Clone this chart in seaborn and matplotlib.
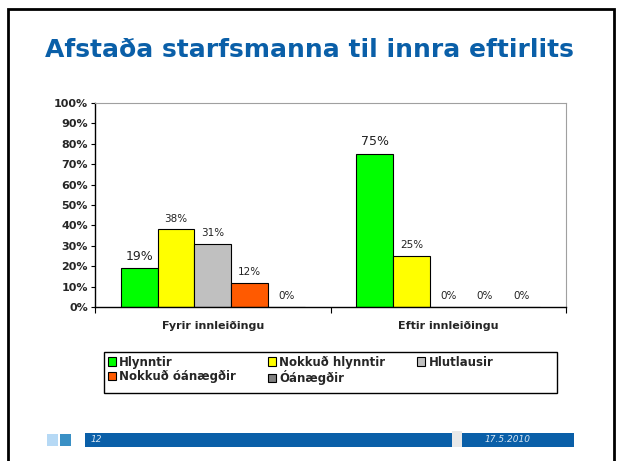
import matplotlib
matplotlib.use("Agg")
import matplotlib.pyplot as plt
from matplotlib.patches import Rectangle
import seaborn as sns
import pandas as pd
import numpy as np

categories = ["Fyrir innleiðingu", "Eftir innleiðingu"]
series = ["Hlynntir", "Nokkuð hlynntir", "Hlutlausir", "Nokkuð óánægðir", "Óánægðir"]
values = {
    "Hlynntir": [19, 75],
    "Nokkuð hlynntir": [38, 25],
    "Hlutlausir": [31, 0],
    "Nokkuð óánægðir": [12, 0],
    "Óánægðir": [0, 0],
}
colors = ["#00FF00", "#FFFF00", "#C0C0C0", "#FF5A00", "#808080"]
yticks = [0, 10, 20, 30, 40, 50, 60, 70, 80, 90, 100]
title = "Afstaða starfsmanna til innra eftirlits"
slide_no = "12"
date_txt = "17.5.2010"

rows = []
for s in series:
    for c, v in zip(categories, values[s]):
        rows.append({"cat": c, "series": s, "val": v})
df = pd.DataFrame(rows)

sns.set_theme(style="white")
plt.rcParams["font.family"] = ["DejaVu Sans"]

W, H = 618, 461
fig = plt.figure(figsize=(W / 100, H / 100), dpi=100)

def fx(px):
    return px / W

def fy(py):
    return 1 - py / H

# slide frame
fig.add_artist(Rectangle((fx(8), fy(470)), fx(614) - fx(8), fy(9) - fy(470),
                         transform=fig.transFigure, fill=False, edgecolor="black", lw=2))

# title
fig.text(fx(45), fy(50), title, color="#0A5FA8", fontsize=18, fontweight="bold",
         va="center", ha="left")

x0, x1, y0, y1 = 95, 566, 103, 307
ax = fig.add_axes([fx(x0), fy(y1), fx(x1) - fx(x0), fy(y0) - fy(y1)])
sns.barplot(data=df, x="cat", y="val", hue="series", order=categories, hue_order=series,
            palette=colors, width=0.78, edgecolor="black", linewidth=0.8, ax=ax,
            legend=False, saturation=1)

ax.set_xlim(-0.5, 1.5)
ax.set_ylim(0, 100)
ax.set_yticks(yticks)
ax.set_yticklabels([f"{t}%" for t in yticks], fontsize=8, fontweight="bold")
ax.set_xticks([0, 1])
ax.set_xticklabels(categories, fontsize=8, fontweight="bold")
ax.tick_params(axis="x", which="major", length=0, pad=10)
ax.set_xticks([-0.5, 0.5, 1.5], minor=True)
ax.tick_params(axis="x", which="minor", length=4, width=0.8, color="black", direction="out", bottom=True)
ax.tick_params(axis="y", length=3, width=0.8, color="black", direction="out", left=True, pad=2)
ax.set_xlabel("")
ax.set_ylabel("")
for side in ["left", "bottom"]:
    ax.spines[side].set_color("black")
    ax.spines[side].set_linewidth(1)
for side in ["top", "right"]:
    ax.spines[side].set_color("#A0A0A0")
    ax.spines[side].set_linewidth(0.8)

for i, cont in enumerate(ax.containers):
    labels = [f"{v:.0f}%" for v in cont.datavalues]
    ax.bar_label(cont, labels=labels, padding=4, fontsize=9 if i == 0 else 7.5,
                 color="#222222")

# legend (frame drawn separately)
fig.add_artist(Rectangle((fx(104), fy(393)), fx(557) - fx(104), fy(352) - fy(393),
                         transform=fig.transFigure, fill=False, edgecolor="black", lw=1))
handles = [Rectangle((0, 0), 1, 1, facecolor=c, edgecolor="black", lw=0.8) for c in colors]
order = [0, 3, 1, 4, 2]
leg = fig.legend([handles[i] for i in order], [series[i] for i in order], ncol=3,
                 loc="upper left", bbox_to_anchor=(fx(104), fy(352)),
                 frameon=False,
                 prop={"weight": "bold", "size": 8.5}, handlelength=0.7, handleheight=0.7,
                 handletextpad=0.3, columnspacing=2.65, labelspacing=0.15,
                 borderpad=0.3, borderaxespad=0)

# footer
fig.add_artist(Rectangle((fx(47), fy(446)), fx(11), fy(434) - fy(446), transform=fig.transFigure,
                         color="#B6D9F5", lw=0))
fig.add_artist(Rectangle((fx(60), fy(446)), fx(11), fy(434) - fy(446), transform=fig.transFigure,
                         color="#3A90C5", lw=0))
fig.add_artist(Rectangle((fx(85), fy(447)), fx(452) - fx(85), fy(433) - fy(447), transform=fig.transFigure,
                         color="#0A5FA8", lw=0))
fig.add_artist(Rectangle((fx(452), fy(447)), fx(10), fy(431) - fy(447), transform=fig.transFigure,
                         color="#E8E8E8", lw=0))
fig.add_artist(Rectangle((fx(462), fy(447)), fx(574) - fx(462), fy(433) - fy(447), transform=fig.transFigure,
                         color="#0A5FA8", lw=0))
fig.text(fx(91), fy(439), slide_no, color="#D8E6F2", fontsize=6.5, style="italic", va="center")
fig.text(fx(531), fy(439), date_txt, color="#D8E6F2", fontsize=6.5, style="italic", va="center",
         ha="right")

fig.savefig("out.png", dpi=100)
